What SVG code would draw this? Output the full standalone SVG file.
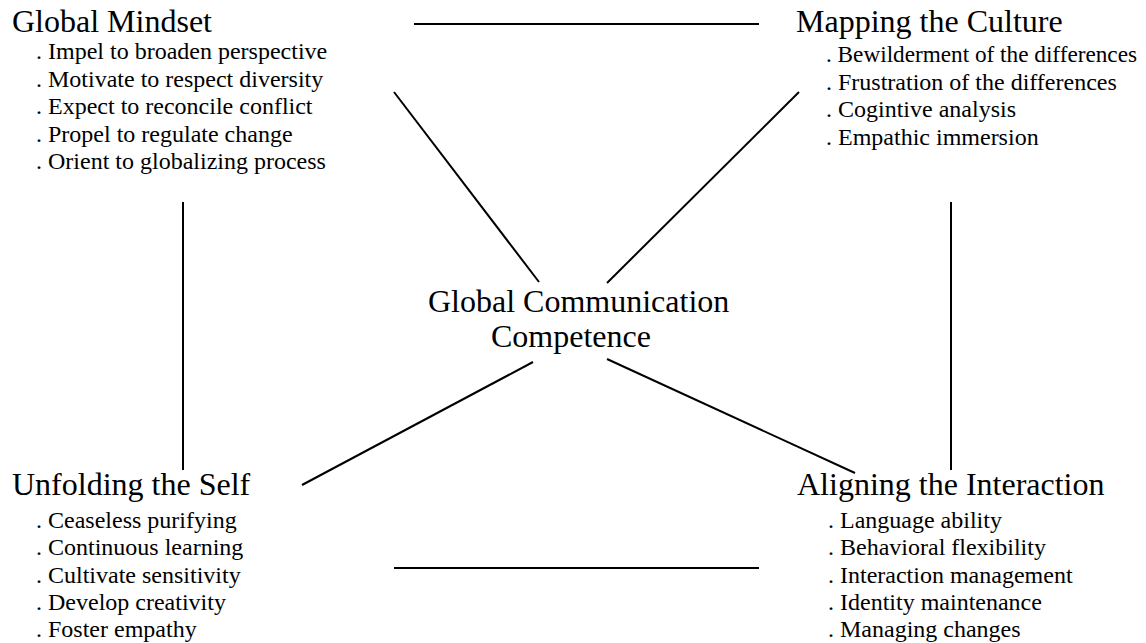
<svg xmlns="http://www.w3.org/2000/svg" width="1146" height="643" viewBox="0 0 1146 643">
<style>
text { font-family: "Liberation Serif", "Times New Roman", serif; fill: #000; }
.title { font-size: 32px; }
.item { font-size: 24px; }
.conn line { stroke: #000; stroke-width: 2; }
</style>
<rect width="1146" height="643" fill="#fff"/>
<g id="connectors" class="conn">
<line x1="414" y1="24" x2="759" y2="24"/>
<line x1="394" y1="568" x2="759" y2="568"/>
<line x1="183" y1="202" x2="183" y2="470"/>
<line x1="951" y1="202" x2="951" y2="470"/>
<line x1="394" y1="92" x2="539" y2="282"/>
<line x1="799" y1="92" x2="607" y2="283"/>
<line x1="533" y1="362" x2="302" y2="485"/>
<line x1="607" y1="359" x2="855" y2="473"/>
</g>
<g id="global-mindset">
<text class="title" x="12" y="32">Global Mindset</text>
<text class="item" x="36" y="59">. Impel to broaden perspective</text>
<text class="item" x="36" y="86.5">. Motivate to respect diversity</text>
<text class="item" x="36" y="114">. Expect to reconcile conflict</text>
<text class="item" x="36" y="141.5">. Propel to regulate change</text>
<text class="item" x="36" y="169">. Orient to globalizing process</text>
</g>
<g id="mapping-culture">
<text class="title" x="796" y="32">Mapping the Culture</text>
<text class="item" x="826" y="62" textLength="311" lengthAdjust="spacingAndGlyphs">. Bewilderment of the differences</text>
<text class="item" x="826" y="89.5">. Frustration of the differences</text>
<text class="item" x="826" y="117">. Cogintive analysis</text>
<text class="item" x="826" y="144.5">. Empathic immersion</text>
</g>
<g id="center">
<text class="title" x="428" y="312">Global Communication</text>
<text class="title" x="491" y="347">Competence</text>
</g>
<g id="unfolding-self">
<text class="title" x="12" y="495">Unfolding the Self</text>
<text class="item" x="36" y="527.5">. Ceaseless purifying</text>
<text class="item" x="36" y="555">. Continuous learning</text>
<text class="item" x="36" y="582.5">. Cultivate sensitivity</text>
<text class="item" x="36" y="610">. Develop creativity</text>
<text class="item" x="36" y="637">. Foster empathy</text>
</g>
<g id="aligning-interaction">
<text class="title" x="797" y="495">Aligning the Interaction</text>
<text class="item" x="828" y="527.5">. Language ability</text>
<text class="item" x="828" y="555">. Behavioral flexibility</text>
<text class="item" x="828" y="582.5">. Interaction management</text>
<text class="item" x="828" y="610">. Identity maintenance</text>
<text class="item" x="828" y="637">. Managing changes</text>
</g>
</svg>
